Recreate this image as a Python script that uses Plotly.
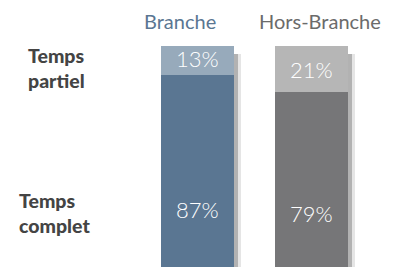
import plotly.graph_objects as go

categories = ["Branche", "Hors-Branche"]
rows = ["Temps complet", "Temps partiel"]
complet = [87, 79]
partiel = [13, 21]
colors_complet = ["#5a7692", "#767678"]
colors_partiel = ["#97aabb", "#b6b6b6"]
title_colors = ["#5a7692", "#6b6b6b"]

x = [0, 1]
fig = go.Figure()

# shadows (separate overlaid axis so they don't stack)
for w, op in [(0.06, 0.10), (0.035, 0.22)]:
    fig.add_trace(go.Bar(x=x, y=[c + p - 2.5 for c, p in zip(complet, partiel)], base=-1.0,
                         width=w, offset=0.32, marker=dict(color=f"rgba(0,0,0,{op})", line_width=0),
                         xaxis="x2", hoverinfo="skip", showlegend=False))

fig.add_trace(go.Bar(x=x, y=complet, name=rows[0], width=0.64,
                     marker=dict(color=colors_complet, line_width=0), showlegend=False))
fig.add_trace(go.Bar(x=x, y=partiel, name=rows[1], width=0.64,
                     marker=dict(color=colors_partiel, line_width=0), showlegend=False))

lab_font = dict(family="Lato", size=22, color="white", weight=300)
# label positions in data units
ypos_complet = [26, 24]
ypos_partiel = [94.5, 89.5]
for i in range(2):
    fig.add_annotation(x=x[i], y=ypos_complet[i], text=f"{complet[i]}%", showarrow=False,
                       font=lab_font, xref="x", yref="y")
    fig.add_annotation(x=x[i], y=ypos_partiel[i], text=f"{partiel[i]}%", showarrow=False,
                       font=lab_font, xref="x", yref="y")

# column headers
header_x = [180 / 395, 320 / 395]
for t, c, hx in zip(categories, title_colors, header_x):
    fig.add_annotation(x=hx, y=1.115, xref="paper", yref="paper", text=t, showarrow=False,
                       xanchor="center", yanchor="middle",
                       font=dict(family="Lato", size=20, color=c))

row_font = dict(family="Lato", size=19.5, color="#444444", weight=900)
fig.add_annotation(x=26/395, y=0.9, xref="paper", yref="paper", text="Temps<br>partiel",
                   showarrow=False, xanchor="left", yanchor="middle", align="left", font=row_font)
fig.add_annotation(x=17/395, y=0.245, xref="paper", yref="paper", text="Temps<br>complet",
                   showarrow=False, xanchor="left", yanchor="middle", align="left", font=row_font)

fig.update_layout(
    width=395, height=275,
    margin=dict(l=0, r=0, t=46, b=8),
    barmode="stack",
    bargap=0,
    plot_bgcolor="white", paper_bgcolor="white",
    xaxis=dict(range=[-1.732, 1.732], visible=False),
    xaxis2=dict(range=[-1.732, 1.732], overlaying="x", visible=False),
    yaxis=dict(range=[0, 100], visible=False),
)
fig.write_html("out.html", config={"displayModeBar": False},
               post_script="document.body.style.margin='0';document.body.style.padding='0';")
